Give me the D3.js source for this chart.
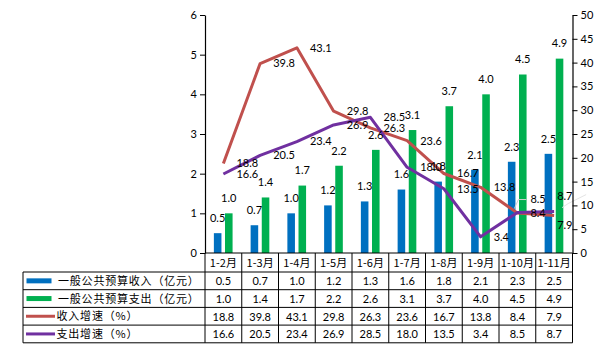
<!DOCTYPE html>
<html>
<head>
<meta charset="utf-8">
<script src="https://cdn.jsdelivr.net/npm/d3@7/dist/d3.min.js"></script>
<style>
  html, body { margin: 0; padding: 0; background: #fff; }
  svg { display: block; }
  text { font-family: Lato, "Noto Sans CJK SC", sans-serif; font-size: 11px; fill: #000; }
  .cjk { font-family: "Noto Sans CJK SC", Lato, sans-serif; }
</style>
</head>
<body>
<svg id="chart" width="601" height="360"></svg>
<script>
// ---- data ----
const categories = ["1-2月", "1-3月", "1-4月", "1-5月", "1-6月", "1-7月", "1-8月", "1-9月", "1-10月", "1-11月"];
const revenue = [0.5, 0.7, 1.0, 1.2, 1.3, 1.6, 1.8, 2.1, 2.3, 2.5];
const expenditure = [1.0, 1.4, 1.7, 2.2, 2.6, 3.1, 3.7, 4.0, 4.5, 4.9];
const revenueGrowth = [18.8, 39.8, 43.1, 29.8, 26.3, 23.6, 16.7, 13.8, 8.4, 7.9];
const expenditureGrowth = [16.6, 20.5, 23.4, 26.9, 28.5, 18.0, 13.5, 3.4, 8.5, 8.7];
const leftTicks = [0, 1, 2, 3, 4, 5, 6];
const rightTicks = [0, 5, 10, 15, 20, 25, 30, 35, 40, 45, 50];
const seriesNames = ["一般公共预算收入（亿元）", "一般公共预算支出（亿元）", "收入增速（%）", "支出增速（%）"];

// ---- styles / layout ----
const colors = ["#0070C0", "#00B050", "#C0504D", "#7030A0"];
const L = 205, R = 572.5, T = 15, B = 253;
const tableLeft = 23, catRowBottom = 272, rowH = 17.7;

const svg = d3.select("#chart");

const x = d3.scaleBand().domain(categories).range([L, R]).paddingInner(0).paddingOuter(0);
const x1 = d3.scaleBand().domain([0, 1]).range([-9.5, 9.2]).paddingInner(0.32);
const yL = d3.scaleLinear().domain([0, 6]).range([B, T]);
const yR = d3.scaleLinear().domain([0, 50]).range([B, T]);
const cx = c => x(c) + x.bandwidth() / 2;

// bars
const barSeries = [revenue, expenditure];
barSeries.forEach((vals, si) => {
  svg.append("g").selectAll("rect").data(vals).join("rect")
    .attr("x", (d, i) => cx(categories[i]) + x1(si))
    .attr("width", x1.bandwidth())
    .attr("y", d => yL(d))
    .attr("height", d => B - yL(d))
    .attr("fill", colors[si]);
});

// lines
const lineSeries = [revenueGrowth, expenditureGrowth];
const line = d3.line().x((d, i) => cx(categories[i])).y(d => yR(d));
lineSeries.forEach((vals, si) => {
  svg.append("path").datum(vals)
    .attr("d", line)
    .attr("fill", "none")
    .attr("stroke", colors[2 + si])
    .attr("stroke-width", 3)
    .attr("stroke-linejoin", "round");
});

// leader lines (faint)
const leader = d3.line();
const p85 = [cx(categories[8]), yR(expenditureGrowth[8])];
svg.append("path").attr("d", leader([[p85[0] - 3, p85[1] - 4], [p85[0] + 1, p85[1] - 13], [p85[0] + 9, p85[1] - 13]]))
  .attr("fill", "none").attr("stroke", "#d0d0d0").attr("stroke-width", 1);
const p87 = [cx(categories[9]), yR(expenditureGrowth[9])];
svg.append("path").attr("d", leader([[p87[0] + 8, p87[1] - 4], [p87[0] + 14, p87[1] - 8], [p87[0] + 32, p87[1] - 17]]))
  .attr("fill", "none").attr("stroke", "#e4e4e4").attr("stroke-width", 1);

const fmt = d3.format(".1f");

// bar labels
barSeries.forEach((vals, si) => {
  svg.append("g").selectAll("text").data(vals).join("text")
    .attr("x", (d, i) => cx(categories[i]) + x1(si) + x1.bandwidth() / 2)
    .attr("y", d => yL(d) - 15)
    .attr("dy", "0.35em")
    .attr("text-anchor", "middle")
    .text(d => fmt(d));
});

// line labels
const lineLabelOffsets = [
  { 9: [3, 10] },
  { 8: [13, -13], 9: [3, -15] }
];
lineSeries.forEach((vals, si) => {
  svg.append("g").selectAll("text").data(vals).join("text")
    .attr("x", (d, i) => cx(categories[i]) + ((lineLabelOffsets[si][i] || [13, 0])[0]))
    .attr("y", (d, i) => yR(d) + ((lineLabelOffsets[si][i] || [13, 0])[1]))
    .attr("dy", "0.35em")
    .attr("text-anchor", "start")
    .text(d => fmt(d));
});

// axes
const axL = svg.append("g").attr("transform", `translate(${L},0)`)
  .call(d3.axisLeft(yL).tickValues(leftTicks).tickSize(5).tickSizeOuter(0).tickFormat(d3.format("d")));
const axR = svg.append("g").attr("transform", `translate(${R},0)`)
  .call(d3.axisRight(yR).tickValues(rightTicks).tickSize(5).tickSizeOuter(0).tickFormat(d3.format("d")));
[axL, axR].forEach(ax => {
  ax.select(".domain").attr("stroke", "#000").attr("stroke-width", 1.2);
  ax.selectAll(".tick line").attr("stroke", "#000");
  ax.selectAll(".tick text").attr("font-family", "Lato, sans-serif").attr("font-size", 11.5).attr("fill", "#000");
});
axL.selectAll(".tick text").attr("x", -8);
axR.selectAll(".tick text").attr("x", 8);

// ---- data table ----
const tg = svg.append("g");
const stroke = (x1_, y1_, x2_, y2_) => tg.append("line").attr("x1", x1_).attr("y1", y1_).attr("x2", x2_).attr("y2", y2_)
  .attr("stroke", "#000").attr("stroke-width", 1);

// category row
stroke(L, B, R, B);
categories.forEach((c, i) => {
  stroke(x(c) + x.bandwidth(), B, x(c) + x.bandwidth(), catRowBottom + 4 * rowH);
});
stroke(L, B, L, catRowBottom + 4 * rowH);
svg.append("g").selectAll("text").data(categories).join("text")
  .attr("class", "cjk")
  .attr("font-size", 11.8)
  .attr("x", d => cx(d))
  .attr("y", (B + catRowBottom) / 2 + 0.5)
  .attr("dy", "0.35em")
  .attr("text-anchor", "middle")
  .text(d => d);

// body rows
for (let r = 0; r <= 4; r++) stroke(tableLeft, catRowBottom + r * rowH, R, catRowBottom + r * rowH);
stroke(tableLeft, catRowBottom, tableLeft, catRowBottom + 4 * rowH);

const rowData = [revenue, expenditure, revenueGrowth, expenditureGrowth];
rowData.forEach((vals, ri) => {
  const yc = catRowBottom + ri * rowH + rowH / 2;
  // legend key
  if (ri < 2) {
    tg.append("rect").attr("x", 26.5).attr("y", yc - 2.5).attr("width", 25).attr("height", 5).attr("fill", colors[ri]);
    tg.append("text").attr("class", "cjk").attr("x", 58).attr("y", yc).attr("dy", "0.36em")
      .attr("font-size", 12).attr("letter-spacing", 0.8).text(seriesNames[ri]);
  } else {
    tg.append("line").attr("x1", 26).attr("x2", 55).attr("y1", yc).attr("y2", yc)
      .attr("stroke", colors[ri]).attr("stroke-width", 3);
    tg.append("text").attr("class", "cjk").attr("x", 56.5).attr("y", yc).attr("dy", "0.36em")
      .attr("font-size", 12).attr("letter-spacing", 0.8).text(seriesNames[ri]);
  }
  tg.append("g").selectAll("text").data(vals).join("text")
    .attr("x", (d, i) => cx(categories[i]))
    .attr("y", yc + 0.5)
    .attr("dy", "0.35em")
    .attr("font-size", 11.5)
    .attr("text-anchor", "middle")
    .text(d => fmt(d));
});
</script>
</body>
</html>
